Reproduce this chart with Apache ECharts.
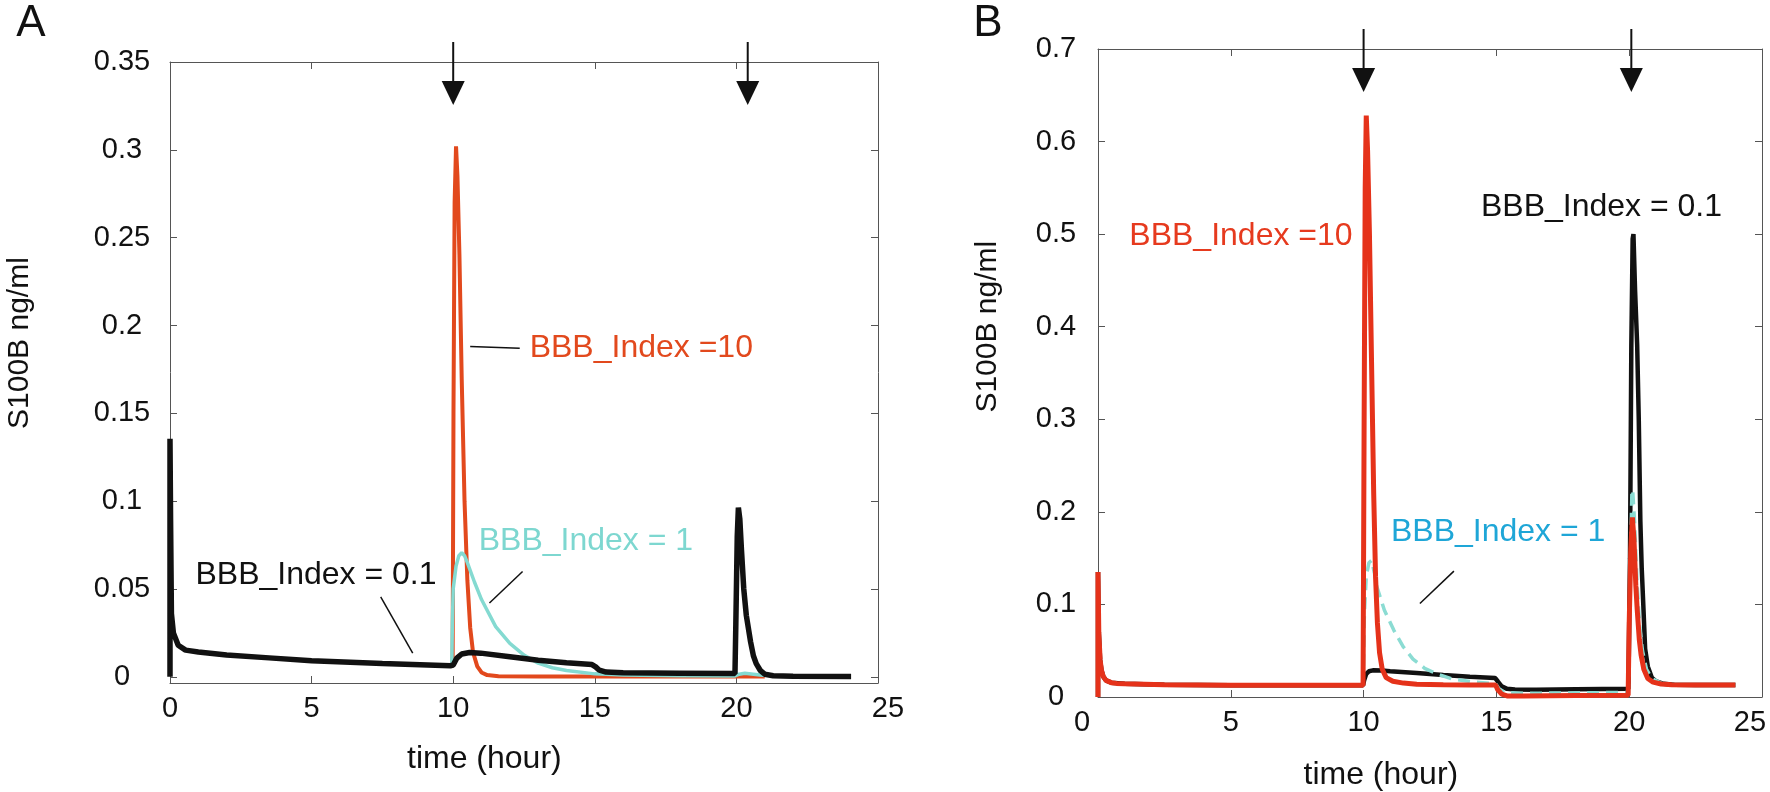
<!DOCTYPE html>
<html>
<head>
<meta charset="utf-8">
<script src="https://cdn.jsdelivr.net/npm/echarts@6/dist/echarts.min.js"></script>
<style>
html,body{margin:0;padding:0;background:#fff;}
#c{width:1770px;height:792px;}
</style>
</head>
<body>
<div id="c"></div>
<script>
// ---------------- DATA ----------------
// Panel A (time in hours, S100B ng/ml)
var aBlackT = [0, 0, 0.02, 0.05, 0.12, 0.29, 0.55, 1, 2, 3.5, 5, 7.5, 9.9, 10, 10.12, 10.3, 10.58, 10.97, 12, 13, 14, 14.9, 15.03, 15.16, 15.4, 16, 18, 19.95, 19.98, 20.03, 20.07, 20.12, 20.18, 20.26, 20.35, 20.5, 20.6, 20.7, 20.85, 21, 21.3, 22, 24.05];
var aBlackV = [0, 0.1355, 0.09, 0.036, 0.025, 0.018, 0.0152, 0.0142, 0.0124, 0.0108, 0.0092, 0.0076, 0.0063, 0.0067, 0.0105, 0.013, 0.0139, 0.0135, 0.0115, 0.0095, 0.008, 0.007, 0.0057, 0.0038, 0.0027, 0.0023, 0.0021, 0.0019, 0.03, 0.08, 0.0964, 0.09, 0.072, 0.05, 0.035, 0.02, 0.012, 0.0075, 0.0035, 0.0015, 0.0006, 0.0003, 0.0002];
var aRedT = [9.98, 10.01, 10.05, 10.1, 10.15, 10.22, 10.3, 10.4, 10.5, 10.6, 10.7, 10.85, 11, 11.2, 11.6, 13, 21];
var aRedV = [0.0065, 0.15, 0.27, 0.302, 0.285, 0.24, 0.17, 0.1, 0.055, 0.028, 0.014, 0.006, 0.0025, 0.001, 0.0004, 0.0002, 0.0002];
var aCyanT = [9.95, 9.97, 10, 10.1, 10.2, 10.3, 10.4, 10.5, 10.75, 11, 11.5, 12, 12.5, 13, 13.5, 14, 15, 16, 18, 19.95, 20.1, 20.3, 20.6, 21];
var aCyanV = [0.0063, 0.03, 0.05, 0.063, 0.069, 0.0706, 0.069, 0.065, 0.054, 0.044, 0.0286, 0.019, 0.0124, 0.0078, 0.0052, 0.0036, 0.0017, 0.001, 0.0006, 0.0005, 0.0015, 0.002, 0.0015, 0.0008];
var aYTicks = [0, 0.05, 0.1, 0.15, 0.2, 0.25, 0.3, 0.35];

// Panel B
var bRedT = [0, 0, 0.03, 0.08, 0.13, 0.2, 0.3, 0.5, 0.7, 1, 2.5, 5, 7.5, 9.98, 10.02, 10.06, 10.1, 10.15, 10.22, 10.3, 10.38, 10.45, 10.52, 10.6, 10.7, 10.85, 11.1, 11.5, 12, 13, 14, 14.97, 15.05, 15.2, 15.4, 16, 18, 19.96, 20, 20.06, 20.12, 20.18, 20.25, 20.3, 20.38, 20.45, 20.55, 20.7, 20.9, 21.2, 21.6, 22.5, 24];
var bRedV = [0, 0.135, 0.07, 0.04, 0.029, 0.022, 0.018, 0.0155, 0.0147, 0.0142, 0.0133, 0.0128, 0.0127, 0.0127, 0.3, 0.55, 0.628, 0.59, 0.5, 0.36, 0.22, 0.13, 0.08, 0.048, 0.03, 0.021, 0.017, 0.015, 0.0138, 0.0133, 0.013, 0.013, 0.008, 0.003, 0.0012, 0.001, 0.0015, 0.002, 0.08, 0.16, 0.194, 0.17, 0.12, 0.095, 0.062, 0.045, 0.03, 0.02, 0.016, 0.014, 0.0133, 0.013, 0.013];
var bBlackT = [0, 0, 0.03, 0.08, 0.13, 0.2, 0.3, 0.5, 1, 2.5, 5, 9.98, 10.02, 10.1, 10.2, 10.35, 10.7, 11, 12, 13, 14, 14.95, 15.05, 15.2, 15.4, 15.7, 16.5, 18, 19.97, 20.03, 20.08, 20.13, 20.16, 20.22, 20.3, 20.36, 20.42, 20.47, 20.53, 20.6, 20.7, 20.85, 21, 21.3, 21.7, 22.5, 24];
var bBlackV = [0, 0.135, 0.07, 0.04, 0.029, 0.022, 0.018, 0.0155, 0.0142, 0.0133, 0.0128, 0.0127, 0.018, 0.025, 0.0278, 0.0288, 0.0285, 0.0279, 0.026, 0.0238, 0.022, 0.0205, 0.017, 0.0115, 0.0088, 0.008, 0.0078, 0.0083, 0.009, 0.15, 0.38, 0.495, 0.5, 0.44, 0.38, 0.3, 0.19, 0.14, 0.1, 0.052, 0.033, 0.021, 0.017, 0.0142, 0.0133, 0.013, 0.013];
var bCyanT = [9.98, 10.03, 10.1, 10.2, 10.3, 10.4, 10.5, 10.78, 11.14, 11.5, 11.86, 12.3, 12.76, 13.3, 14.2, 14.97, 15.1, 15.3, 16, 19.97, 20.03, 20.1, 20.13, 20.2, 20.3, 20.4, 20.5, 20.65, 20.85, 21.2, 21.6, 24];
var bCyanV = [0.0127, 0.09, 0.13, 0.145, 0.1475, 0.135, 0.119, 0.094, 0.072, 0.054, 0.041, 0.031, 0.025, 0.0198, 0.016, 0.0144, 0.009, 0.005, 0.004, 0.005, 0.12, 0.22, 0.224, 0.19, 0.12, 0.075, 0.05, 0.03, 0.02, 0.015, 0.0135, 0.013];
var bYTicks = [0, 0.1, 0.2, 0.3, 0.4, 0.5, 0.6, 0.7];

// arrow (dose) times
var aArrows = [10, 20.4];
var bArrows = [10, 20.08];

// ---------------- STYLE / LAYOUT ----------------
var FONT = "'Liberation Sans', Arial, Helvetica, sans-serif";
var C = {
  aRed: '#e2491d', aCyan: '#84dad1', aCyanText: '#7dd7d0', black: '#111111',
  bRed: '#e5321a', bRedText: '#e63a1e', bCyan: '#8bdcd3', bCyanText: '#1ea6d7', axis: '#555555'
};
// horizontal nudges of the end tick labels (reference figure places them slightly off the ticks)
var xLabelShift = [{0: 0, 25: 10}, {0: -16, 25: -12}];

function zip(t, v) { var o = []; for (var i = 0; i < t.length; i++) o.push([t[i], v[i]]); return o; }

var chart = echarts.init(document.getElementById('c'), null, {renderer: 'canvas', width: 1770, height: 792});

function xAx(grid, pos, showLabel, panel) {
  var lblStyle = {fontSize: 29, fontFamily: FONT, color: '#111'};
  var shifts = xLabelShift[panel];
  var rich = {};
  Object.keys(shifts).forEach(function (k) {
    var s = shifts[k];
    rich['s' + k] = {fontSize: 29, fontFamily: FONT, color: '#111',
      padding: s < 0 ? [0, -2 * s, 0, 0] : [0, 0, 0, 2 * s]};
  });
  return {
    type: 'value', gridIndex: grid, position: pos, min: 0, max: 25, interval: 5,
    axisLine: {show: true, onZero: false, lineStyle: {color: C.axis, width: 1}},
    axisTick: {show: true, inside: true, length: 7, lineStyle: {color: C.axis, width: 1}},
    axisLabel: {show: showLabel, fontSize: 29, fontFamily: FONT, color: '#111', margin: 11, rich: rich,
      formatter: function (v) { return shifts[v] ? '{s' + v + '|' + v + '}' : String(v); }},
    splitLine: {show: false}
  };
}
function yAx(grid, pos, showLabel, min, max, ticks, margin) {
  return {
    type: 'value', gridIndex: grid, position: pos, min: min, max: max,
    axisLine: {show: true, onZero: false, lineStyle: {color: C.axis, width: 1}},
    axisTick: {show: true, inside: true, length: 7, customValues: ticks, lineStyle: {color: C.axis, width: 1}},
    axisLabel: {show: showLabel, customValues: ticks, fontSize: 29, fontFamily: FONT, color: '#111',
      align: 'center', margin: margin, formatter: function (v) { return String(v); }},
    splitLine: {show: false}
  };
}

var option = {
  animation: false,
  backgroundColor: '#ffffff',
  grid: [
    {left: 170, top: 62, width: 708, height: 621, show: false},
    {left: 1098, top: 49, width: 664, height: 648, show: false}
  ],
  xAxis: [xAx(0, 'bottom', true, 0), xAx(0, 'top', false, 0), xAx(1, 'bottom', true, 1), xAx(1, 'top', false, 1)],
  yAxis: [
    yAx(0, 'left', true, -0.0035, 0.35, aYTicks, 48), yAx(0, 'right', false, -0.0035, 0.35, aYTicks, 8),
    yAx(1, 'left', true, 0, 0.7, bYTicks, 42), yAx(1, 'right', false, 0, 0.7, bYTicks, 8)
  ],
  series: [
    {type: 'line', xAxisIndex: 0, yAxisIndex: 0, data: zip(aRedT, aRedV), showSymbol: false, z: 2,
      lineStyle: {color: C.aRed, width: 4}, itemStyle: {color: C.aRed}},
    {type: 'line', xAxisIndex: 0, yAxisIndex: 0, data: zip(aCyanT, aCyanV), showSymbol: false, z: 3,
      lineStyle: {color: C.aCyan, width: 3.5}, itemStyle: {color: C.aCyan}},
    {type: 'line', xAxisIndex: 0, yAxisIndex: 0, data: zip(aBlackT, aBlackV), showSymbol: false, z: 4,
      lineStyle: {color: C.black, width: 5.5}, itemStyle: {color: C.black}},
    {type: 'line', xAxisIndex: 2, yAxisIndex: 2, data: zip(bBlackT, bBlackV), showSymbol: false, z: 2,
      lineStyle: {color: C.black, width: 4.5}, itemStyle: {color: C.black}},
    {type: 'line', xAxisIndex: 2, yAxisIndex: 2, data: zip(bCyanT, bCyanV), showSymbol: false, z: 3,
      lineStyle: {color: C.bCyan, width: 3.5, type: [12, 7]}, itemStyle: {color: C.bCyan}},
    {type: 'line', xAxisIndex: 2, yAxisIndex: 2, data: zip(bRedT, bRedV), showSymbol: false, z: 4,
      lineStyle: {color: C.bRed, width: 5}, itemStyle: {color: C.bRed}}
  ]
};
chart.setOption(option);

// ---------------- ANNOTATIONS ----------------
var annotTexts = [
  {p: 0, text: 'BBB_Index =10', at: [12.7, 0.187], color: C.aRed},
  {p: 0, text: 'BBB_Index = 1', at: [10.9, 0.077], color: C.aCyanText},
  {p: 0, text: 'BBB_Index = 0.1', at: [0.9, 0.058], color: C.black},
  {p: 1, text: 'BBB_Index =10', at: [1.18, 0.4975], color: C.bRedText},
  {p: 1, text: 'BBB_Index = 0.1', at: [14.42, 0.529], color: C.black},
  {p: 1, text: 'BBB_Index = 1', at: [11.03, 0.178], color: C.bCyanText}
];
var leaders = [
  {p: 0, from: [10.6, 0.188], to: [12.35, 0.187]},
  {p: 0, from: [12.45, 0.06], to: [11.28, 0.042]},
  {p: 0, from: [7.44, 0.0455], to: [8.57, 0.0135]},
  {p: 1, from: [13.4, 0.136], to: [12.12, 0.101]}
];
function px(p, pt) {
  return chart.convertToPixel(p === 0 ? {xAxisIndex: 0, yAxisIndex: 0} : {xAxisIndex: 2, yAxisIndex: 2}, pt);
}
var g = [];
annotTexts.forEach(function (a) {
  var q = px(a.p, a.at);
  g.push({type: 'text', x: q[0], y: q[1], z: 10,
    style: {text: a.text, fill: a.color, font: '32px ' + FONT, textAlign: 'left', textVerticalAlign: 'middle'}});
});
leaders.forEach(function (l) {
  var a = px(l.p, l.from), b = px(l.p, l.to);
  g.push({type: 'line', z: 10, shape: {x1: a[0], y1: a[1], x2: b[0], y2: b[1]}, style: {stroke: '#111', lineWidth: 1.5}});
});
// dose arrows above each panel
function addArrows(p, times, topVal) {
  times.forEach(function (t) {
    var q = px(p, [t, topVal]);
    var x = q[0], top = q[1];
    g.push({type: 'line', z: 10, shape: {x1: x, y1: top - 20, x2: x, y2: top + 22}, style: {stroke: '#111', lineWidth: 2}});
    g.push({type: 'polygon', z: 10, shape: {points: [[x - 11.5, top + 19], [x + 11.5, top + 19], [x, top + 43]]}, style: {fill: '#111'}});
  });
}
addArrows(0, aArrows, 0.35);
addArrows(1, bArrows, 0.7);

// axis titles
var qa = px(0, [11.1, -0.047]);
g.push({type: 'text', x: qa[0], y: qa[1], style: {text: 'time (hour)', fill: '#111', font: '32px ' + FONT, textAlign: 'center', textVerticalAlign: 'middle'}});
var qb = px(1, [10.65, -0.084]);
g.push({type: 'text', x: qb[0], y: qb[1], style: {text: 'time (hour)', fill: '#111', font: '32px ' + FONT, textAlign: 'center', textVerticalAlign: 'middle'}});
var ya = px(0, [0, 0.19]);
g.push({type: 'text', x: 20, y: ya[1], rotation: Math.PI / 2, style: {text: 'S100B ng/ml', fill: '#111', font: '30px ' + FONT, textAlign: 'center', textVerticalAlign: 'middle'}});
var yb = px(1, [0, 0.4]);
g.push({type: 'text', x: 988, y: yb[1], rotation: Math.PI / 2, style: {text: 'S100B ng/ml', fill: '#111', font: '30px ' + FONT, textAlign: 'center', textVerticalAlign: 'middle'}});
// panel letters
g.push({type: 'text', x: 31, y: 24, style: {text: 'A', fill: '#111', font: '44px ' + FONT, textAlign: 'center', textVerticalAlign: 'middle'}});
g.push({type: 'text', x: 988, y: 24, style: {text: 'B', fill: '#111', font: '44px ' + FONT, textAlign: 'center', textVerticalAlign: 'middle'}});

chart.setOption({graphic: g});
</script>
</body>
</html>
